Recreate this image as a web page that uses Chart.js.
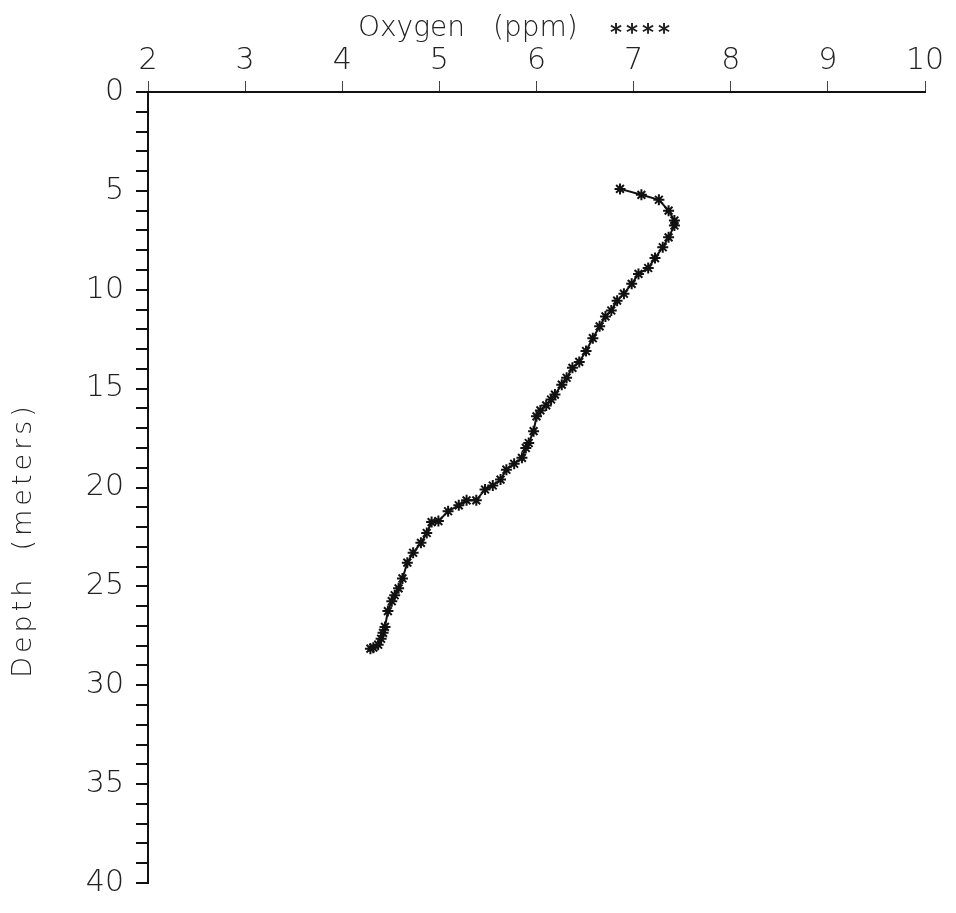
<!DOCTYPE html>
<html>
<head>
<meta charset="utf-8">
<script src="https://cdn.jsdelivr.net/npm/chart.js@4"></script>
<style>
  html, body { margin: 0; padding: 0; background: #fff; }
  #wrap { width: 956px; height: 913px; }
</style>
</head>
<body>
<div id="wrap"><canvas id="chart" width="956" height="913"></canvas></div>
<script>
// oxygen profile
const depth = [4.9, 5.2, 5.45, 6.0, 6.5, 6.75, 7.35, 7.85, 8.4, 8.9, 9.2, 9.7, 10.2, 10.55, 11.05, 11.35, 11.85, 12.45, 13.1, 13.65,
    13.95, 14.45, 14.8, 15.3, 15.55, 15.85, 16.1, 16.4, 17.15, 17.75, 18.0, 18.5, 18.8, 19.1, 19.6, 19.9, 20.1, 20.65, 20.65, 20.9,
    21.2, 21.7, 21.75, 22.3, 22.8, 23.3, 23.8, 24.6, 25.1, 25.45, 25.75, 26.25, 27.05, 27.35, 27.65, 27.95, 28.1, 28.15];
const oxygen = [6.86, 7.08, 7.26, 7.36, 7.42, 7.42, 7.36, 7.30, 7.22, 7.15, 7.05, 6.98, 6.90, 6.83, 6.77, 6.71, 6.65, 6.58, 6.51, 6.44,
    6.37, 6.31, 6.26, 6.19, 6.15, 6.10, 6.04, 6.00, 5.97, 5.92, 5.89, 5.85, 5.77, 5.69, 5.63, 5.55, 5.47, 5.38, 5.28, 5.20,
    5.09, 4.99, 4.92, 4.87, 4.81, 4.73, 4.67, 4.62, 4.58, 4.54, 4.51, 4.47, 4.44, 4.42, 4.40, 4.37, 4.32, 4.29];

const xMin = 2, xMax = 10;
const yMin = 0, yMax = 40;
const xTitleWords = ["Oxygen", "(ppm)"];
const xTitleMarker = "****";
const yTitle = "Depth  (meters)";

const points = oxygen.map((o, i) => ({ x: o, y: depth[i] }));

const fam = "'DejaVu Sans', sans-serif";
const thin = "200";   // plotter lettering is thin; falls back to normal if no light face
const labelFont = { family: fam, size: 30, weight: thin };
const ink = "#111";
const textInk = "#222";

// axis titles drawn by hand: the plotter lettering is spaced out and off-centre
const titles = {
    id: "titles",
    afterDraw: chart => {
        const ctx = chart.ctx;
        const a = chart.chartArea;
        ctx.save();
        ctx.fillStyle = textInk;
        ctx.textBaseline = "alphabetic";
        ctx.textAlign = "left";

        ctx.font = thin + " 28px " + fam;
        ctx.fillText(xTitleWords[0], a.left + 210, 36);
        ctx.fillText(xTitleWords[1], a.left + 345, 36);
        ctx.font = "bold 23px " + fam;
        ctx.letterSpacing = "4px";
        ctx.fillText(xTitleMarker, a.left + 462, 40);

        ctx.font = thin + " 27px " + fam;
        ctx.letterSpacing = "4px";
        ctx.translate(24, a.top + 448);
        ctx.rotate(-Math.PI / 2);
        ctx.textAlign = "center";
        ctx.textBaseline = "middle";
        ctx.fillText(yTitle, 0, 0);
        ctx.restore();
    }
};

new Chart(document.getElementById("chart"), {
    type: "scatter",
    data: {
        datasets: [{
            data: points,
            showLine: true,
            borderColor: ink,
            borderWidth: 2,
            tension: 0,
            pointStyle: "star",
            pointRadius: 5.5,
            pointBorderWidth: 2,
            pointBorderColor: ink,
            pointBackgroundColor: ink
        }]
    },
    plugins: [titles],
    options: {
        responsive: false,
        animation: false,
        layout: { padding: { left: 0, right: 31, top: 0, bottom: 16 } },
        plugins: { legend: { display: false }, tooltip: { enabled: false } },
        scales: {
            x: {
                type: "linear",
                position: "top",
                min: xMin,
                max: xMax,
                afterFit: s => { s.height = 92; },
                ticks: { stepSize: 1, color: textInk, font: labelFont, padding: 2 },
                grid: { drawOnChartArea: false, tickLength: 11, color: "#444", lineWidth: 1 },
                border: { color: ink, width: 2 }
            },
            y: {
                type: "linear",
                reverse: true,
                min: yMin,
                max: yMax,
                afterFit: s => { s.width = 148; },
                ticks: {
                    stepSize: 1,
                    autoSkip: false,
                    color: textInk,
                    font: labelFont,
                    padding: 12,
                    callback: v => (v % 5 === 0 ? v : "")
                },
                grid: { drawOnChartArea: false, tickLength: 12, color: ink, lineWidth: 2 },
                border: { color: ink, width: 2 }
            }
        }
    }
});
</script>
</body>
</html>
